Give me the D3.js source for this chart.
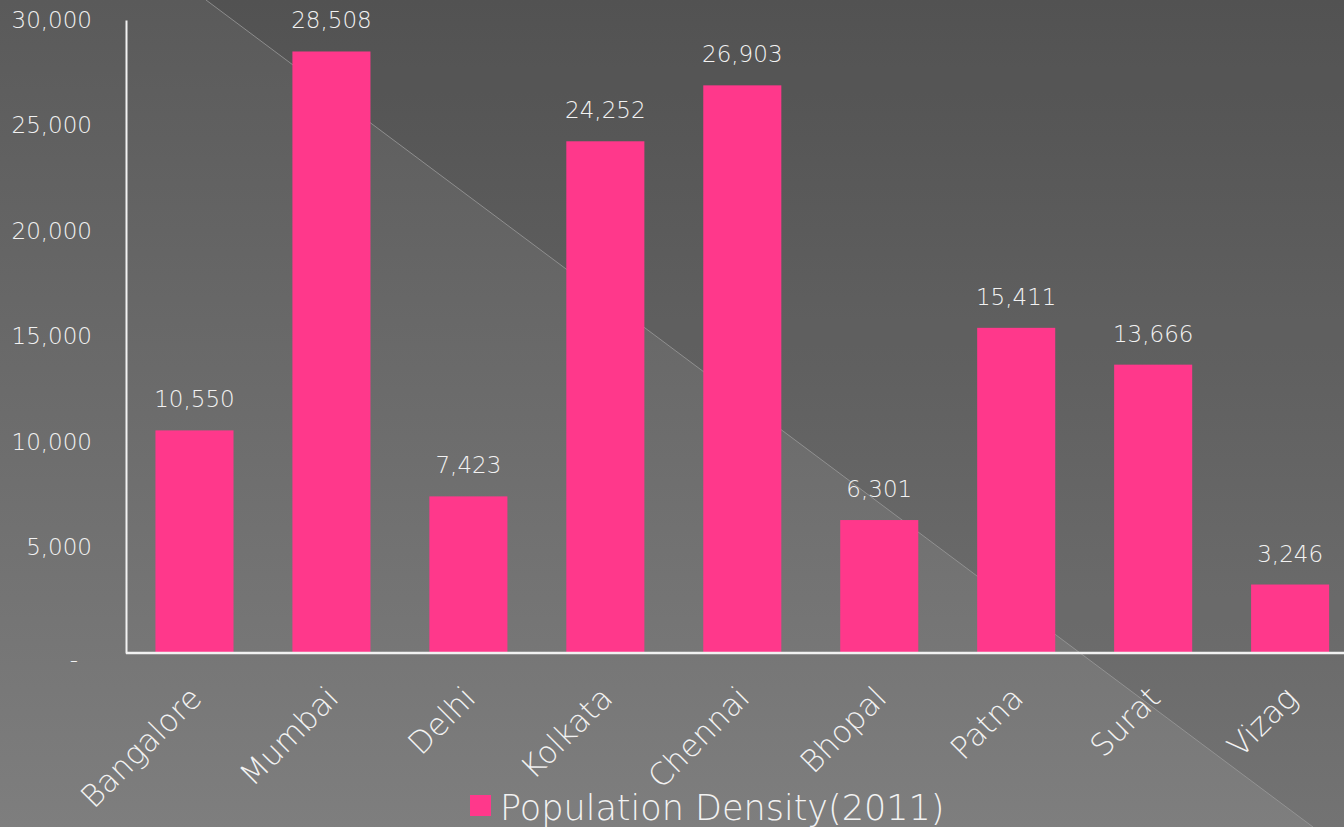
<!DOCTYPE html>
<html><head><meta charset="utf-8">
<script src="https://cdn.jsdelivr.net/npm/d3@7"></script>
<style>
html,body{margin:0;padding:0;overflow:hidden;background:#666;}
svg{display:block;font-family:"DejaVu Sans",sans-serif;font-weight:200;}
</style></head>
<body>
<svg id="chart" width="1344" height="827"></svg>
<script>
const categories = ["Bangalore","Mumbai","Delhi","Kolkata","Chennai","Bhopal","Patna","Surat","Vizag"];
const values = [10550, 28508, 7423, 24252, 26903, 6301, 15411, 13666, 3246];
const yTicks = [0, 5000, 10000, 15000, 20000, 25000, 30000];
const seriesName = "Population Density(2011)";

const W = 1344, H = 827;
const svg = d3.select("#chart");
const defs = svg.append("defs");
const grad = defs.append("linearGradient").attr("id","bg").attr("x1",0).attr("y1",0).attr("x2",0).attr("y2",1);
grad.append("stop").attr("offset","0%").attr("stop-color","#5a5a5a");
grad.append("stop").attr("offset","100%").attr("stop-color","#7e7e7e");
svg.append("rect").attr("width",W).attr("height",H).attr("fill","url(#bg)");
// darker triangle upper right
svg.append("path").attr("d",`M206,0 L${W},0 L${W},${H} L1313,${H} Z`).attr("fill","#000").attr("opacity",0.085);
svg.append("line").attr("x1",206).attr("y1",0).attr("x2",1313).attr("y2",H)
  .attr("stroke","#9a9a9a").attr("stroke-width",1).attr("opacity",0.8);

const mLeft = 126, mRight = 1358.6, mTop = 20, mBottom = 653;
const x = d3.scaleBand().domain(categories).range([mLeft, mRight]).paddingInner(0.43).paddingOuter(0.215);
const y = d3.scaleLinear().domain([0, 30000]).range([mBottom, mTop]);

const fmt = d3.format(",");
const textColor = "#f2f2f2";
const ff = "DejaVu Sans, sans-serif";

// bars
svg.append("g").selectAll("rect").data(values).join("rect")
  .attr("x",(d,i)=>x(categories[i]))
  .attr("y",d=>y(d))
  .attr("width",x.bandwidth())
  .attr("height",d=>y(0)-y(d))
  .attr("fill","#ff388b");

// data labels
svg.append("g").selectAll("text").data(values).join("text")
  .attr("x",(d,i)=>x(categories[i])+x.bandwidth()/2)
  .attr("y",d=>y(d)-23)
  .attr("text-anchor","middle")
  .attr("fill",textColor)
  .attr("font-size",23)
  .text(d=>fmt(d));

// y axis
const yAxis = d3.axisLeft(y).tickValues(yTicks).tickSize(0).tickPadding(34)
  .tickFormat(d=> d===0 ? "-" : fmt(d));
const gy = svg.append("g").attr("transform",`translate(${mLeft},0)`).call(yAxis);
gy.select(".domain").attr("stroke","#f2f2f2").attr("stroke-width",2);
gy.selectAll("text").attr("fill",textColor).attr("font-size",23).attr("font-family",ff).attr("font-weight",200);
gy.selectAll(".tick").filter(d=>d===0).select("text").attr("dx",-14).attr("dy","0.62em");

// x axis
const xAxis = d3.axisBottom(x).tickSize(0).tickPadding(0);
const gx = svg.append("g").attr("transform",`translate(0,${mBottom})`).call(xAxis);
gx.select(".domain").attr("stroke","#f2f2f2").attr("stroke-width",2.5).attr("d",`M${mLeft},0H${W}`);
gx.selectAll("text")
  .attr("fill",textColor).attr("font-size",31).attr("font-family",ff).attr("font-weight",200)
  .attr("text-anchor","end")
  .attr("dy","0")
  .attr("transform","translate(9,47) rotate(-45)");

// legend
const lg = svg.append("g");
lg.append("rect").attr("x",470).attr("y",795).attr("width",21).attr("height",21).attr("fill","#ff388b");
lg.append("text").attr("x",500).attr("y",820).attr("fill",textColor).attr("font-size",35).text(seriesName);
</script>
</body></html>
